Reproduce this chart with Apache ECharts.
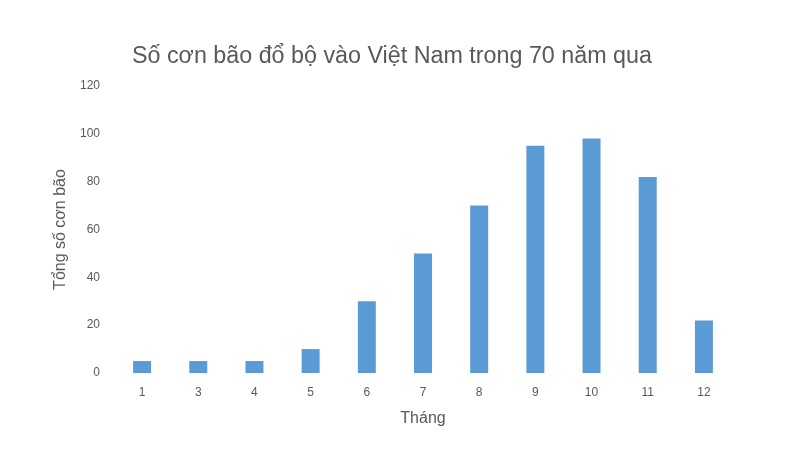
<!DOCTYPE html>
<html>
<head>
<meta charset="utf-8">
<script src="https://cdn.jsdelivr.net/npm/echarts@6/dist/echarts.min.js"></script>
<style>html,body{margin:0;padding:0;background:#fff}#c{width:797px;height:470px}</style>
</head>
<body>
<div id="c"></div>
<script>
const categories = ['1', '3', '4', '5', '6', '7', '8', '9', '10', '11', '12'];
const stormCounts = [5, 5, 5, 10, 30, 50, 70, 95, 98, 82, 22];
const yTicks = [0, 20, 40, 60, 80, 100, 120];

const chart = echarts.init(document.getElementById('c'));
chart.setOption({
  backgroundColor: '#ffffff',
  animation: false,
  textStyle: { fontFamily: 'Liberation Sans, Arial, sans-serif' },
  title: {
    text: 'Số cơn bão đổ bộ vào Việt Nam trong 70 năm qua',
    left: 127,
    top: 40,
    textStyle: { fontSize: 23.3, fontWeight: 'normal', color: '#595959', fontFamily: 'Liberation Sans, Arial, sans-serif' }
  },
  grid: { left: 114, right: 65, top: 86, bottom: 97 },
  xAxis: {
    type: 'category',
    data: categories,
    name: 'Tháng',
    nameLocation: 'middle',
    nameGap: 38,
    nameTextStyle: { fontSize: 16, color: '#595959' },
    axisLine: { show: false },
    axisTick: { show: false },
    axisLabel: { fontSize: 12, color: '#595959', margin: 14 }
  },
  yAxis: {
    type: 'value',
    min: yTicks[0],
    max: yTicks[yTicks.length - 1],
    interval: 20,
    name: 'Tổng số cơn bão',
    nameLocation: 'middle',
    nameGap: 40,
    nameTextStyle: { fontSize: 16, color: '#595959' },
    axisLine: { show: false },
    axisTick: { show: false },
    splitLine: { show: false },
    axisLabel: { fontSize: 12, color: '#595959', margin: 14 }
  },
  series: [{
    type: 'bar',
    data: stormCounts,
    barWidth: '32%',
    itemStyle: { color: '#5B9BD5' }
  }]
});
</script>
</body>
</html>
